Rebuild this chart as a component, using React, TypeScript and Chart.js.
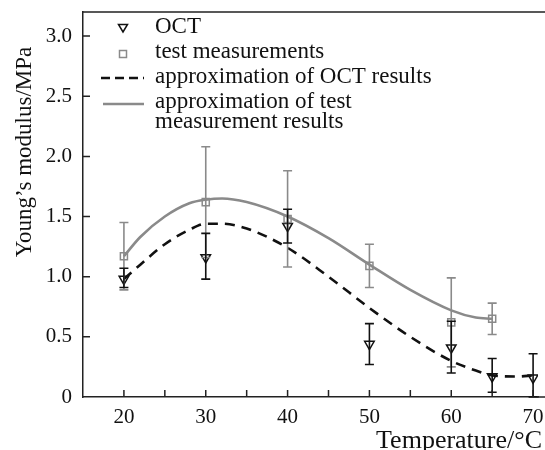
import React, { useEffect, useRef } from "react";
import { Chart, registerables } from "chart.js";

Chart.register(...registerables);

// ---- data ----
const octX = [20, 30, 40, 50, 60, 65, 70];
const octY = [0.98, 1.16, 1.42, 0.44, 0.41, 0.17, 0.16];
const octLow = [0.91, 0.98, 1.28, 0.27, 0.2, 0.04, 0.0];
const octHigh = [1.07, 1.36, 1.56, 0.61, 0.63, 0.32, 0.36];

const testX = [20, 30, 40, 50, 60, 65];
const testY = [1.17, 1.62, 1.48, 1.09, 0.62, 0.65];
const testLow = [0.89, 1.16, 1.08, 0.91, 0.25, 0.52];
const testHigh = [1.45, 2.08, 1.88, 1.27, 0.99, 0.78];

const octFitX = [20, 22, 25, 28, 30, 32, 35, 40, 45, 50, 55, 60, 63, 65, 68, 70];
const octFitY = [0.98, 1.1, 1.27, 1.39, 1.44, 1.44, 1.4, 1.24, 1.0, 0.74, 0.5, 0.3, 0.22, 0.18, 0.17, 0.18];

const testFitX = [20, 22, 25, 28, 30, 32, 35, 40, 45, 50, 55, 60, 63, 65];
const testFitY = [1.17, 1.33, 1.5, 1.61, 1.64, 1.65, 1.62, 1.5, 1.32, 1.1, 0.89, 0.72, 0.66, 0.65];

const xTickValues = [20, 25, 30, 35, 40, 45, 50, 55, 60, 65, 70];
const yTickValues = [0, 0.5, 1.0, 1.5, 2.0, 2.5, 3.0];

const legendLabels = [
  ["OCT"],
  ["test measurements"],
  ["approximation of OCT results"],
  ["approximation of test", "measurement results"],
];
const xTitle = "Temperature/°C";
const yTitle = "Young’s modulus/MPa";

const SERIF = "'Liberation Serif', 'Times New Roman', serif";
const GREY = "#8a8a8a";

const pts = (xs: number[], ys: number[]) => xs.map((x, i) => ({ x, y: ys[i] }));

const decorPlugin = {
  id: "decor",
  afterDatasetsDraw(chart: any) {
    const ctx = chart.ctx;
    const xs = chart.scales.x;
    const ys = chart.scales.y;
    const ca = chart.chartArea;
    ctx.save();
    const drawErr = (xv: number[], lo: number[], hi: number[], color: string) => {
      ctx.strokeStyle = color;
      ctx.lineWidth = 1.6;
      xv.forEach((x, i) => {
        const px = xs.getPixelForValue(x);
        const pl = Math.min(ys.getPixelForValue(lo[i]), ca.bottom);
        const ph = ys.getPixelForValue(hi[i]);
        ctx.beginPath();
        ctx.moveTo(px, pl);
        ctx.lineTo(px, ph);
        ctx.moveTo(px - 4.5, ph);
        ctx.lineTo(px + 4.5, ph);
        ctx.moveTo(px - 4.5, pl);
        ctx.lineTo(px + 4.5, pl);
        ctx.stroke();
      });
    };
    drawErr(testX, testLow, testHigh, GREY);
    drawErr(octX, octLow, octHigh, "#111");
    ctx.restore();
  },
  afterDraw(chart: any) {
    const ctx = chart.ctx;
    const xs = chart.scales.x;
    const ys = chart.scales.y;
    const ca = chart.chartArea;
    ctx.save();
    ctx.strokeStyle = "#222";
    ctx.lineWidth = 1.5;
    ctx.beginPath();
    ctx.moveTo(ca.left, ca.top);
    ctx.lineTo(chart.width, ca.top);
    ctx.moveTo(ca.right - 1, ca.bottom);
    ctx.lineTo(chart.width, ca.bottom);
    ctx.stroke();
    ctx.beginPath();
    xTickValues.forEach((v) => {
      const px = xs.getPixelForValue(v);
      ctx.moveTo(px, ca.bottom);
      ctx.lineTo(px, ca.bottom - 7);
    });
    yTickValues.forEach((v) => {
      if (v === 0) return;
      const py = ys.getPixelForValue(v);
      ctx.moveTo(ca.left, py);
      ctx.lineTo(ca.left + 7, py);
    });
    ctx.stroke();

    // legend
    const lx = ca.left + 72;
    const mx = ca.left + 40;
    const rows = [ca.top + 21, ca.top + 46, ca.top + 71, ca.top + 96];
    ctx.fillStyle = "#111";
    ctx.font = `23px ${SERIF}`;
    ctx.textAlign = "left";
    ctx.textBaseline = "alphabetic";
    {
      const cy = rows[0] - 5;
      ctx.strokeStyle = "#111";
      ctx.lineWidth = 1.5;
      ctx.beginPath();
      ctx.moveTo(mx - 4.5, cy - 3.5);
      ctx.lineTo(mx + 4.5, cy - 3.5);
      ctx.lineTo(mx, cy + 4);
      ctx.closePath();
      ctx.stroke();
    }
    {
      const cy = rows[1] - 4;
      ctx.strokeStyle = GREY;
      ctx.lineWidth = 1.5;
      ctx.strokeRect(mx - 3.5, cy - 3.5, 7, 7);
    }
    {
      const cy = rows[2] - 5;
      ctx.strokeStyle = "#111";
      ctx.lineWidth = 2.6;
      ctx.setLineDash([9, 5]);
      ctx.beginPath();
      ctx.moveTo(ca.left + 18, cy);
      ctx.lineTo(ca.left + 61, cy);
      ctx.stroke();
      ctx.setLineDash([]);
    }
    {
      const cy = rows[3] - 4;
      ctx.strokeStyle = GREY;
      ctx.lineWidth = 2.6;
      ctx.beginPath();
      ctx.moveTo(ca.left + 20, cy);
      ctx.lineTo(ca.left + 61, cy);
      ctx.stroke();
    }
    legendLabels.forEach((lines, i) => {
      lines.forEach((t, j) => {
        ctx.fillText(t, lx, rows[i] + j * 20);
      });
    });

    // axis titles
    ctx.font = `26px ${SERIF}`;
    ctx.textAlign = "right";
    ctx.fillText(xTitle, 542, 448);
    ctx.font = `23px ${SERIF}`;
    ctx.save();
    ctx.translate(31, 152);
    ctx.rotate(-Math.PI / 2);
    ctx.textAlign = "center";
    ctx.fillText(yTitle, 0, 0);
    ctx.restore();
    ctx.restore();
  },
};

export default function App() {
  const ref = useRef<HTMLCanvasElement | null>(null);
  useEffect(() => {
    document.body.style.margin = "0";
    const canvas = ref.current;
    if (!canvas) return;
    const chart = new Chart(canvas, {
      type: "scatter",
      data: {
        datasets: [
          {
            type: "line",
            label: "approximation of test measurement results",
            data: pts(testFitX, testFitY),
            borderColor: GREY,
            borderWidth: 2.6,
            pointRadius: 0,
            tension: 0.4,
            cubicInterpolationMode: "monotone",
            fill: false,
          } as any,
          {
            type: "line",
            label: "approximation of OCT results",
            data: pts(octFitX, octFitY),
            borderColor: "#111",
            borderWidth: 2.6,
            borderDash: [10, 7],
            pointRadius: 0,
            tension: 0.4,
            cubicInterpolationMode: "monotone",
            fill: false,
          } as any,
          {
            label: "test measurements",
            data: pts(testX, testY),
            pointStyle: "rect",
            pointRadius: 5,
            borderColor: GREY,
            borderWidth: 1.5,
            backgroundColor: "rgba(255,255,255,0)",
            showLine: false,
          } as any,
          {
            label: "OCT",
            data: pts(octX, octY),
            pointStyle: "triangle",
            rotation: 180,
            pointRadius: 5.5,
            borderColor: "#111",
            borderWidth: 1.5,
            backgroundColor: "rgba(255,255,255,0)",
            showLine: false,
          } as any,
        ],
      },
      options: {
        responsive: false,
        animation: false,
        layout: { padding: { top: 12, right: 0, left: 0, bottom: 0 } },
        plugins: {
          legend: { display: false },
          tooltip: { enabled: false },
        },
        scales: {
          x: {
            type: "linear",
            min: 15,
            max: 70.6,
            grid: { display: false, drawTicks: false },
            border: { display: true, color: "#222", width: 1.5 },
            afterBuildTicks: (s: any) => {
              s.ticks = xTickValues.map((v) => ({ value: v }));
            },
            afterFit: (s: any) => {
              s.height = 53;
              s.paddingLeft = 0;
              s.paddingRight = 0;
            },
            ticks: {
              autoSkip: false,
              maxRotation: 0,
              padding: 8,
              color: "#111",
              font: { family: SERIF, size: 21 },
              callback: (v: any) => (Number(v) % 10 === 0 ? String(v) : ""),
            },
          },
          y: {
            type: "linear",
            min: 0,
            max: 3.2,
            grid: { display: false, drawTicks: false },
            border: { display: true, color: "#222", width: 1.5 },
            afterBuildTicks: (s: any) => {
              s.ticks = yTickValues.map((v) => ({ value: v }));
            },
            afterFit: (s: any) => {
              s.width = 83;
              s.paddingTop = 0;
              s.paddingBottom = 0;
            },
            ticks: {
              autoSkip: false,
              padding: 11,
              color: "#111",
              font: { family: SERIF, size: 21 },
              callback: (v: any) => (Number(v) === 0 ? "0" : Number(v).toFixed(1)),
            },
          },
        },
      } as any,
      plugins: [decorPlugin],
    });
    return () => chart.destroy();
  }, []);
  return (
    <div style={{ width: 545, height: 450 }}>
      <canvas ref={ref} width={545} height={450} style={{ width: 545, height: 450, display: "block" }} />
    </div>
  );
}
